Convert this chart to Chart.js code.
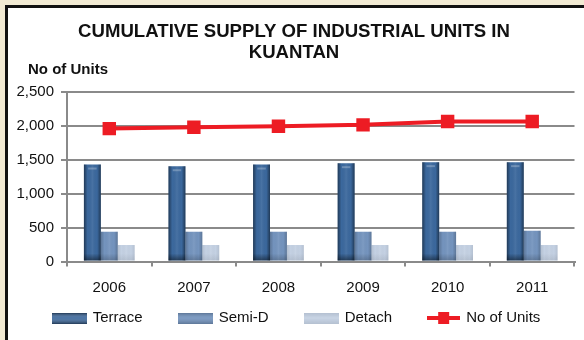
<!DOCTYPE html>
<html>
<head>
<meta charset="utf-8">
<title>Cumulative Supply of Industrial Units in Kuantan</title>
<script src="https://cdn.jsdelivr.net/npm/chart.js@4.4.0/dist/chart.umd.min.js"></script>
<style>
  html, body { margin: 0; padding: 0; background: #f2ead3; }
  #marco {
    position: absolute; left: 5px; top: 5px; width: 579px; height: 335px;
    background: #fff; border-left: 3px solid #111; border-top: 3px solid #111;
    box-sizing: border-box;
  }
  #grafica { position: absolute; left: 0; top: 0; width: 584px; height: 340px; }
</style>
</head>
<body>
<div id="marco"></div>
<canvas id="grafica" width="584" height="340"></canvas>
<script>
'use strict'

// DATOS DEL GRÁFICO
const anios = ['2006', '2007', '2008', '2009', '2010', '2011'];
const terrace = [1430, 1405, 1430, 1450, 1465, 1465];
const semiD = [440, 440, 440, 440, 440, 455];
const detach = [242, 242, 242, 242, 242, 242];
const noOfUnits = [1960, 1980, 1995, 2015, 2065, 2065];
const titulo = ['CUMULATIVE SUPPLY OF INDUSTRIAL UNITS IN', 'KUANTAN'];

const FUENTE = "'Liberation Sans', Arial, sans-serif";
const GRIS = '#8a8a8a';
const MARGEN = 8; // borde del marco negro

// ICONOS DE LA LEYENDA (cajas con sombreado y la línea con su marcador)
function iconoCaja(color, fuerza) {
  const c = document.createElement('canvas');
  c.width = 35; c.height = 11;
  const g = c.getContext('2d');
  g.fillStyle = color;
  g.fillRect(0, 0, 35, 11);
  const v = g.createLinearGradient(0, 0, 0, 11);
  v.addColorStop(0, `rgba(0,0,0,${fuerza})`);
  v.addColorStop(0.45, 'rgba(255,255,255,0.08)');
  v.addColorStop(1, `rgba(0,0,0,${fuerza})`);
  g.fillStyle = v;
  g.fillRect(0, 0, 35, 11);
  return c;
}

function iconoLinea(color) {
  const c = document.createElement('canvas');
  c.width = 33; c.height = 12;
  const g = c.getContext('2d');
  g.fillStyle = color;
  g.fillRect(0, 4, 33, 4);
  g.fillRect(11, 0, 11, 12);
  return c;
}

// SOMBREADO DE LAS BARRAS
const sombreado = {
  id: 'sombreado',
  afterDatasetDraw(chart, args) {
    const ds = chart.data.datasets[args.index];
    if (ds.type === 'line') return;
    const ctx = chart.ctx;
    const f = ds.sombra;
    args.meta.data.forEach(bar => {
      const { x, y, base, width } = bar.getProps(['x', 'y', 'base', 'width'], true);
      const izq = x - width / 2;
      ctx.save();
      const h = ctx.createLinearGradient(izq, 0, izq + width, 0);
      h.addColorStop(0, `rgba(0,0,0,${f})`);
      h.addColorStop(0.22, 'rgba(0,0,0,0)');
      h.addColorStop(0.5, 'rgba(255,255,255,0.07)');
      h.addColorStop(0.78, 'rgba(0,0,0,0)');
      h.addColorStop(1, `rgba(0,0,0,${f})`);
      ctx.fillStyle = h;
      ctx.fillRect(izq, y, width, base - y);
      const v = ctx.createLinearGradient(0, base - 7, 0, base);
      v.addColorStop(0, 'rgba(0,0,0,0)');
      v.addColorStop(1, `rgba(0,0,0,${f})`);
      ctx.fillStyle = v;
      ctx.fillRect(izq, base - 7, width, 7);
      if (ds.brillo) {
        ctx.fillStyle = 'rgba(255,255,255,0.25)';
        ctx.fillRect(izq + width * 0.25, y + 3, width * 0.5, 2);
      }
      ctx.restore();
    });
  }
};

// TÍTULO HORIZONTAL DEL EJE Y
const tituloEje = {
  id: 'tituloEje',
  afterDraw(chart, args, opts) {
    const { ctx, chartArea } = chart;
    ctx.save();
    ctx.font = `bold 15px ${FUENTE}`;
    ctx.fillStyle = '#111';
    ctx.textBaseline = 'middle';
    ctx.fillText(opts.texto, chartArea.left - 39, chartArea.top - 22);
    ctx.restore();
  }
};

// LEYENDA INFERIOR: icono + texto, centrada dentro del marco
const leyenda = {
  id: 'leyenda',
  afterDraw(chart, args, opts) {
    const { ctx, chartArea } = chart;
    ctx.save();
    ctx.font = `15px ${FUENTE}`;
    ctx.fillStyle = '#111';
    ctx.textBaseline = 'middle';
    const items = chart.data.datasets.map(ds => {
      const icono = ds.type === 'line' ? iconoLinea(ds.borderColor) : iconoCaja(ds.backgroundColor, ds.sombra);
      const ancho = icono.width + opts.hueco + ctx.measureText(ds.label).width;
      return { icono, texto: ds.label, ancho };
    });
    const total = items.reduce((s, it) => s + it.ancho, 0) + opts.separacion * (items.length - 1);
    let x = (MARGEN + chart.width) / 2 - total / 2;
    const y = chartArea.bottom + opts.distancia;
    items.forEach(it => {
      ctx.drawImage(it.icono, x, Math.round(y - it.icono.height / 2));
      ctx.fillText(it.texto, x + it.icono.width + opts.hueco, y);
      x += it.ancho + opts.separacion;
    });
    ctx.restore();
  }
};

function crearGrafica() {
  const ctx = document.getElementById('grafica').getContext('2d');

  new Chart(ctx, {
    type: 'bar',
    data: {
      labels: anios,
      datasets: [
        { label: 'Terrace', data: terrace, backgroundColor: '#3b689d', sombra: 0.45, brillo: true },
        { label: 'Semi-D', data: semiD, backgroundColor: '#7494be', sombra: 0.2 },
        { label: 'Detach', data: detach, backgroundColor: '#c4d1e3', sombra: 0.08 },
        {
          type: 'line',
          label: 'No of Units',
          data: noOfUnits,
          order: -1,
          borderColor: '#ed1c24',
          backgroundColor: '#ed1c24',
          borderWidth: 4,
          tension: 0,
          pointStyle: 'rect',
          pointRadius: 9.5,
          pointBorderWidth: 0,
          pointBackgroundColor: '#ed1c24'
        }
      ]
    },
    options: {
      responsive: false,
      animation: false,
      layout: { padding: { top: MARGEN, left: MARGEN, right: 4, bottom: 42.5 } },
      datasets: {
        bar: { categoryPercentage: 0.6, barPercentage: 1.0 }
      },
      scales: {
        x: {
          z: 1,
          grid: { display: true, drawOnChartArea: false, drawTicks: true, tickLength: 5, color: GRIS, lineWidth: 2 },
          border: { display: true, color: GRIS, width: 2 },
          ticks: { font: { size: 15, family: FUENTE }, color: '#111', padding: 12 },
          afterFit(scale) { scale.height = 36; }
        },
        y: {
          min: 0,
          max: 2500,
          grid: { color: GRIS, lineWidth: 2, tickLength: 6 },
          border: { display: true, color: GRIS, width: 2 },
          ticks: {
            stepSize: 500,
            padding: 7,
            font: { size: 15, family: FUENTE },
            color: '#111',
            callback: v => v.toLocaleString('en-US')
          },
          afterFit(scale) { scale.width = 59; }
        }
      },
      plugins: {
        title: {
          display: true,
          text: titulo,
          color: '#111',
          font: { size: 18.6, weight: 'bold', family: FUENTE, lineHeight: 1.15 },
          padding: { top: 13, bottom: 28.2 }
        },
        tituloEje: { texto: 'No of Units' },
        leyenda: { hueco: 6, separacion: 35, distancia: 56.5 },
        tooltip: { enabled: false },
        legend: { display: false }
      }
    },
    plugins: [sombreado, tituloEje, leyenda]
  });
}

crearGrafica();
</script>
</body>
</html>
